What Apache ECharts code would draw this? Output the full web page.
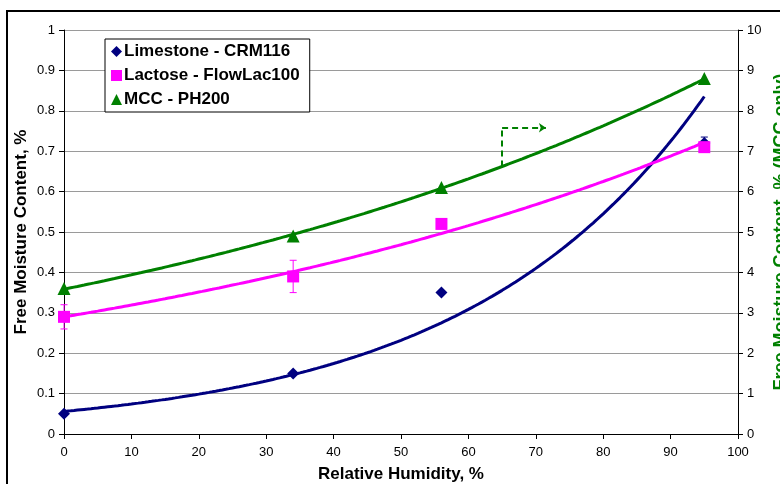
<!DOCTYPE html>
<html>
<head>
<meta charset="utf-8">
<script src="https://cdn.jsdelivr.net/npm/echarts@6/dist/echarts.min.js"></script>
<style>
  html, body { margin: 0; padding: 0; background: #fff; }
  #chart { width: 780px; height: 484px; }
</style>
</head>
<body>
<div id="chart"></div>
<script>
// Relative humidity (%) at which samples were conditioned
const humidity = [0, 34, 56, 95];

// Free moisture content, % (left axis)
const limestone = [0.05, 0.15, 0.35, 0.72];
const limestoneErr = [[0.05, 0.05], [0.15, 0.15], [0.35, 0.35], [0.705, 0.735]];
const lactose = [0.29, 0.39, 0.52, 0.71];
const lactoseErr = [[0.26, 0.32], [0.35, 0.43], [0.51, 0.53], [0.70, 0.72]];

// MCC free moisture content, % (right axis)
const mcc = [3.6, 4.9, 6.1, 8.8];

// Axis tick ranges
const xTicks = { min: 0, max: 100, step: 10 };
const leftTicks = { min: 0, max: 1, step: 0.1 };
const rightTicks = { min: 0, max: 10, step: 1 };

// Dashed pointer showing that the green curve belongs to the right axis
const pointerX = [65, 71.5];
const pointerY = [6.62, 7.58];

const NAVY = '#000080', PINK = '#ff00ff', GREEN = '#008000';
const FONT = 'Liberation Sans, Arial, sans-serif';

// Exponential least-squares trendline y = a*e^(b*x) fitted to (xs, ys)
function expFit(xs, ys) {
  const n = xs.length;
  const ly = ys.map(Math.log);
  const mx = xs.reduce((s, v) => s + v, 0) / n;
  const my = ly.reduce((s, v) => s + v, 0) / n;
  let sxy = 0, sxx = 0;
  for (let i = 0; i < n; i++) { sxy += (xs[i] - mx) * (ly[i] - my); sxx += (xs[i] - mx) ** 2; }
  const b = sxy / sxx;
  const a = Math.exp(my - b * mx);
  const pts = [];
  const x0 = xs[0], x1 = xs[n - 1];
  for (let x = x0; x <= x1 + 1e-9; x += 0.5) pts.push([x, a * Math.exp(b * x)]);
  return pts;
}

const pairs = (ys) => humidity.map((x, i) => [x, ys[i]]);

function errorSeries(errs, color) {
  return {
    type: 'custom',
    yAxisIndex: 0,
    z: 4,
    silent: true,
    data: humidity.map((x, i) => [x, errs[i][0], errs[i][1]]),
    renderItem: function (params, api) {
      const lo = api.coord([api.value(0), api.value(1)]);
      const hi = api.coord([api.value(0), api.value(2)]);
      const w = 3.5;
      const style = { stroke: color, lineWidth: 1 };
      return {
        type: 'group',
        children: [
          { type: 'line', shape: { x1: lo[0], y1: lo[1], x2: hi[0], y2: hi[1] }, style },
          { type: 'line', shape: { x1: lo[0] - w, y1: lo[1], x2: lo[0] + w, y2: lo[1] }, style },
          { type: 'line', shape: { x1: hi[0] - w, y1: hi[1], x2: hi[0] + w, y2: hi[1] }, style }
        ]
      };
    }
  };
}

const chart = echarts.init(document.getElementById('chart'), null, { renderer: 'canvas' });

chart.setOption({
  animation: false,
  backgroundColor: '#fff',
  textStyle: { fontFamily: FONT },
  grid: { left: 64, right: 42, top: 30, bottom: 50, outerBoundsMode: 'none', containLabel: false },
  graphic: [{
    type: 'rect',
    shape: { x: 7, y: 11, width: 800, height: 500 },
    style: { fill: 'none', stroke: '#000', lineWidth: 2 },
    silent: true
  }],
  legend: {
    orient: 'vertical',
    left: 105,
    top: 39,
    padding: [4, 10, 4, 6],
    itemGap: 7,
    itemWidth: 11,
    itemHeight: 11,
    backgroundColor: '#fff',
    borderColor: '#000',
    borderWidth: 1,
    textStyle: { fontFamily: FONT, fontSize: 17, fontWeight: 'bold', color: '#000', padding: [0, 0, 0, -3] },
    data: [
      { name: 'Limestone - CRM116', icon: 'diamond' },
      { name: 'Lactose - FlowLac100', icon: 'rect' },
      { name: 'MCC - PH200', icon: 'triangle' }
    ]
  },
  xAxis: {
    type: 'value',
    min: xTicks.min, max: xTicks.max, interval: xTicks.step,
    name: 'Relative Humidity, %',
    nameLocation: 'middle',
    nameGap: 32,
    nameTextStyle: { fontFamily: FONT, fontSize: 17, fontWeight: 'bold', color: '#000' },
    axisLine: { lineStyle: { color: '#000', width: 1 } },
    axisTick: { inside: false, length: 5, lineStyle: { color: '#000' } },
    axisLabel: { color: '#000', fontSize: 13, margin: 12, fontFamily: FONT },
    splitLine: { show: false }
  },
  yAxis: [{
    type: 'value',
    min: leftTicks.min, max: leftTicks.max, interval: leftTicks.step,
    name: 'Free Moisture Content, %',
    nameLocation: 'middle',
    nameRotate: 90,
    nameGap: 34,
    nameMoveOverlap: false,
    nameTextStyle: { fontFamily: FONT, fontSize: 17, fontWeight: 'bold', color: '#000' },
    axisLine: { show: true, lineStyle: { color: '#000', width: 1 } },
    axisTick: { show: true, inside: false, length: 5, lineStyle: { color: '#000' } },
    axisLabel: { color: '#000', fontSize: 13, margin: 9, fontFamily: FONT,
      formatter: v => String(Math.round(v * 10) / 10) },
    splitLine: { show: true, lineStyle: { color: '#9a9a9a', width: 1 } }
  }, {
    type: 'value',
    position: 'right',
    min: rightTicks.min, max: rightTicks.max, interval: rightTicks.step,
    name: 'Free Moisture Content, % (MCC only)',
    nameLocation: 'middle',
    nameRotate: 90,
    nameGap: 27,
    nameTextStyle: { fontFamily: FONT, fontSize: 18, fontWeight: 'bold', color: GREEN },
    axisLine: { show: true, lineStyle: { color: '#000', width: 1 } },
    axisTick: { show: true, inside: false, length: 5, lineStyle: { color: '#000' } },
    axisLabel: { color: '#000', fontSize: 13, margin: 9, fontFamily: FONT },
    splitLine: { show: false }
  }],
  series: [
    // fitted exponential trendlines
    { type: 'line', yAxisIndex: 0, data: expFit(humidity, limestone), showSymbol: false, silent: true,
      lineStyle: { color: NAVY, width: 3 }, z: 3 },
    { type: 'line', yAxisIndex: 0, data: expFit(humidity, lactose), showSymbol: false, silent: true,
      lineStyle: { color: PINK, width: 3 }, z: 3 },
    { type: 'line', yAxisIndex: 1, data: expFit(humidity, mcc), showSymbol: false, silent: true,
      lineStyle: { color: GREEN, width: 3 }, z: 3 },
    // error bars
    errorSeries(limestoneErr, NAVY),
    errorSeries(lactoseErr, PINK),
    // measured points
    { name: 'Limestone - CRM116', type: 'scatter', yAxisIndex: 0, data: pairs(limestone),
      symbol: 'diamond', symbolSize: 12, itemStyle: { color: NAVY, opacity: 1 }, z: 5 },
    { name: 'Lactose - FlowLac100', type: 'scatter', yAxisIndex: 0, data: pairs(lactose),
      symbol: 'rect', symbolSize: 12, itemStyle: { color: PINK, opacity: 1 }, z: 5 },
    { name: 'MCC - PH200', type: 'scatter', yAxisIndex: 1, data: pairs(mcc),
      symbol: 'triangle', symbolSize: 13, itemStyle: { color: GREEN, opacity: 1 }, z: 5,
      markLine: {
        silent: true,
        symbol: ['none', 'none'],
        label: { show: false },
        lineStyle: { color: GREEN, width: 2, type: [6, 4] },
        data: [
          [{ coord: [pointerX[0], pointerY[0]], symbol: 'none' },
           { coord: [pointerX[0], pointerY[1]], symbol: 'none' }],
          [{ coord: [pointerX[0], pointerY[1]], symbol: 'none' },
           { coord: [pointerX[1], pointerY[1]], symbol: 'arrow', symbolSize: 7 }]
        ]
      } }
  ]
});
</script>
</body>
</html>
